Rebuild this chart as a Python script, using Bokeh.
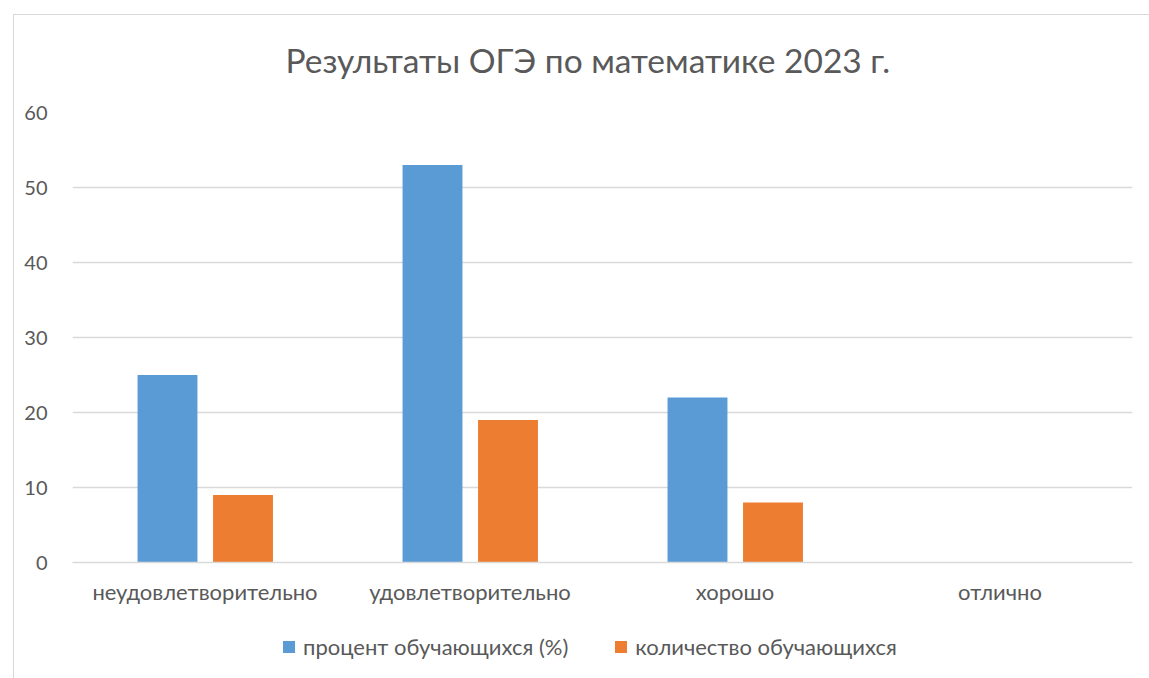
from bokeh.plotting import figure
from bokeh.layouts import column
from bokeh.models import FactorRange, Range1d, Legend, LegendItem, SingleIntervalTicker, ColumnDataSource, Div
from bokeh.transform import dodge
from bokeh.embed import file_html
from bokeh.resources import INLINE

categories = ["неудовлетворительно", "удовлетворительно", "хорошо", "отлично"]
percent = [25, 53, 22, 0]
count = [9, 19, 8, 0]
series_names = ["процент обучающихся (%)", "количество обучающихся"]
title_text = "Результаты ОГЭ по математике 2023 г."

FONT = "Lato"
GRAY = "#595959"
GRID = "#D9D9D9"
BLUE = "#5B9BD5"
ORANGE = "#ED7D31"

src = ColumnDataSource(dict(cat=categories, percent=percent, count=count))

p = figure(x_range=FactorRange(*categories, range_padding=0), y_range=Range1d(0, 60),
           width=1141, height=620, output_backend="svg", toolbar_location=None,
           min_border_left=72, min_border_right=9, min_border_top=112, min_border_bottom=58)

p.title.text = title_text
p.title.align = "left"
p.title.offset = 213
p.title.text_font = FONT
p.title.text_font_size = "33.5px"
p.title.text_font_style = "normal"
p.title.text_color = GRAY
p.title.standoff = 65

bar_w = 0.226
p.vbar(x=dodge("cat", -0.1415, range=p.x_range), top="percent", width=bar_w, source=src,
       fill_color=BLUE, line_color=None)
p.vbar(x=dodge("cat", 0.1434, range=p.x_range), top="count", width=bar_w, source=src,
       fill_color=ORANGE, line_color=None)

p.yaxis.ticker = SingleIntervalTicker(interval=10)
p.yaxis.axis_line_color = None
p.yaxis.major_tick_line_color = None
p.yaxis.minor_tick_line_color = None
p.yaxis.major_label_text_font = FONT
p.yaxis.major_label_text_font_size = "20px"
p.yaxis.major_label_text_color = GRAY
p.yaxis.major_label_standoff = 19

p.xaxis.axis_line_color = GRID
p.xaxis.axis_line_width = 1.5
p.xaxis.major_tick_line_color = None
p.xaxis.minor_tick_line_color = None
p.xaxis.major_label_text_font = FONT
p.xaxis.major_label_text_font_size = "22px"
p.xaxis.major_label_text_color = GRAY
p.xaxis.major_label_standoff = 9

p.xgrid.grid_line_color = None
p.ygrid.grid_line_color = GRID
p.ygrid.grid_line_width = 1.5
p.outline_line_color = None

# legend strip below the chart (bars here lie outside the visible y range)
lg = figure(x_range=p.x_range, y_range=Range1d(100, 101), width=1141, height=50,
            output_backend="svg", toolbar_location=None,
            min_border_left=0, min_border_right=0, min_border_top=0, min_border_bottom=0)
lg.axis.visible = False
lg.grid.visible = False
lg.outline_line_color = None
h1 = lg.vbar(x=dodge("cat", -0.1415, range=p.x_range), top="percent", width=bar_w, source=src,
             fill_color=BLUE, line_color=None)
h2 = lg.vbar(x=dodge("cat", 0.1434, range=p.x_range), top="count", width=bar_w, source=src,
             fill_color=ORANGE, line_color=None)

legend = Legend(items=[LegendItem(label=series_names[0], renderers=[h1]),
                       LegendItem(label=series_names[1], renderers=[h2])],
                orientation="horizontal", location=(209, 10))
legend.label_text_font = FONT
legend.label_text_font_size = "22px"
legend.label_text_color = GRAY
legend.glyph_width = 15
legend.glyph_height = 15
legend.spacing = 45
legend.label_standoff = 7
legend.border_line_color = None
legend.background_fill_alpha = 0
legend.padding = 0
legend.margin = 0
lg.add_layout(legend, "center")

frame_div = Div(text="", width=1141, height=665,
                styles={"position": "absolute", "left": "8px", "top": "9px",
                        "border-top": "1.5px solid #D9D9D9", "border-left": "1.5px solid #D9D9D9",
                        "pointer-events": "none", "z-index": "10"})

layout = column(p, lg, frame_div)
open("out.html", "w").write(file_html(layout, INLINE))
